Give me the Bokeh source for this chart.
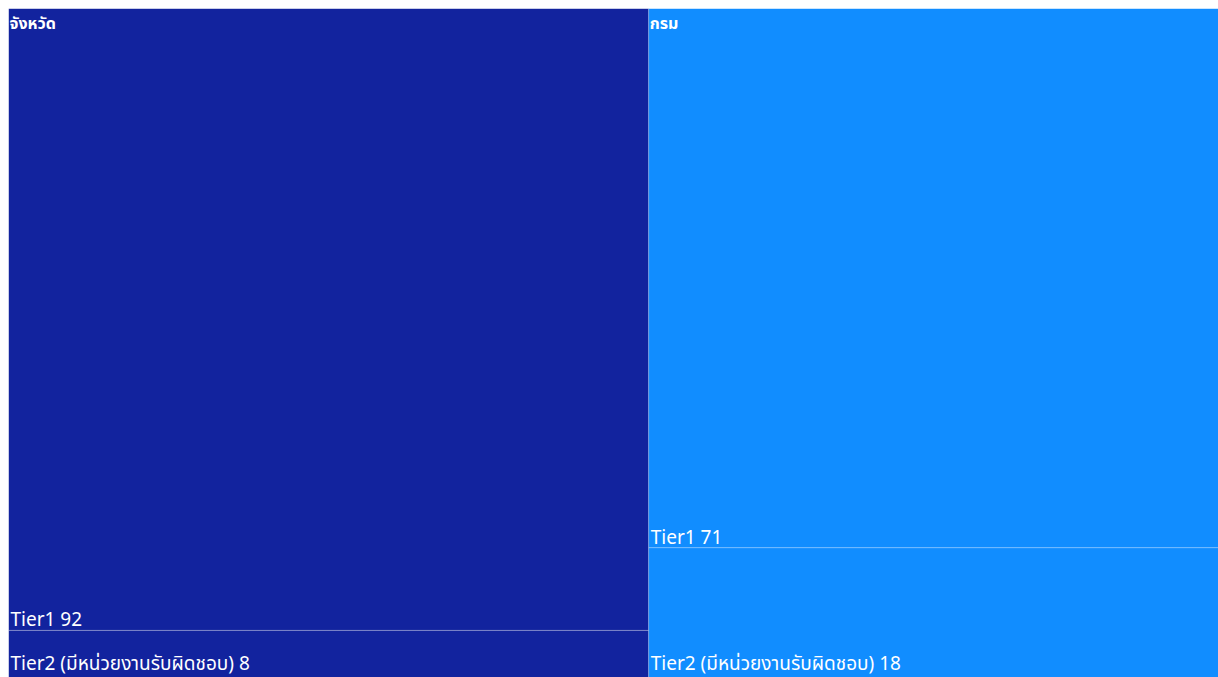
from bokeh.plotting import figure
from bokeh.models import ColumnDataSource, Range1d
from bokeh.core.properties import value
from bokeh.embed import file_html
from bokeh.resources import INLINE

# ---- data ----
groups = ["จังหวัด", "กรม"]
group_colors = ["#12239E", "#118DFF"]
tiers = ["Tier1", "Tier2 (มีหน่วยงานรับผิดชอบ)"]
values_changwat = [92, 8]
values_krom = [71, 18]
series = [values_changwat, values_krom]

# ---- layout (slice-and-dice treemap) ----
MARGIN = 8
PAGE_W, PAGE_H = 1218, 677
TW = float(PAGE_W - MARGIN)   # treemap width (units)
TH = 676.0                    # treemap height (units)
VIS_H = PAGE_H - MARGIN       # visible height of frame

total = sum(sum(s) for s in series)

rx, ry, rw, rh, rc = [], [], [], [], []
lx, ly, lt = [], [], []
gx, gy, gt = [], [], []

x0 = 0.0
for g, col, vals in zip(groups, group_colors, series):
    gsum = sum(vals)
    w = TW * gsum / total
    y0 = 0.0
    for t, v in zip(tiers, vals):
        h = TH * v / gsum
        rx.append(x0 + w / 2); ry.append(y0 + h / 2)
        rw.append(w); rh.append(h); rc.append(col)
        lx.append(x0 + 2)
        ly.append(min(y0 + h - 11, VIS_H - 15))
        lt.append(f"{t} {v}")
        y0 += h
    gx.append(x0 + 1); gy.append(14)
    gt.append(g)
    x0 += w

p = figure(width=PAGE_W, height=PAGE_H, output_backend="svg", toolbar_location=None,
           x_range=Range1d(0, TW), y_range=Range1d(VIS_H, 0),
           min_border=0, min_border_left=MARGIN, min_border_right=0,
           min_border_top=MARGIN, min_border_bottom=0)
p.axis.visible = False
p.grid.visible = False
p.outline_line_color = None
p.background_fill_color = "white"
p.border_fill_color = "white"

rects = ColumnDataSource(dict(x=rx, y=ry, w=rw, h=rh, c=rc))
p.rect(x="x", y="y", width="w", height="h", fill_color="c", source=rects,
       line_color="white", line_alpha=0.22, line_width=1)

font = "Segoe UI, Noto Sans, Noto Sans Thai, DejaVu Sans, sans-serif"
leaf = ColumnDataSource(dict(x=lx, y=ly, t=lt))
p.text(x="x", y="y", text="t", source=leaf, text_color="white",
       text_font=value(font), text_font_size="19px",
       text_align="left", text_baseline="alphabetic")

grp = ColumnDataSource(dict(x=gx, y=gy, t=gt))
p.text(x="x", y="y", text="t", source=grp, text_color="white",
       text_font=value(font), text_font_size="16px", text_font_style="bold",
       text_align="left", text_baseline="alphabetic")

open("out.html", "w").write(file_html(p, INLINE))
